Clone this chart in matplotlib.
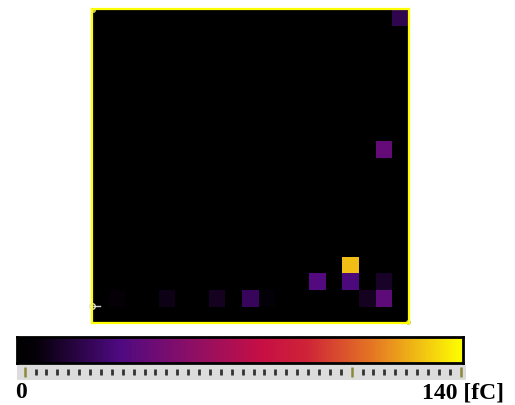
import matplotlib as mpl
import matplotlib.pyplot as plt
from matplotlib.colors import LinearSegmentedColormap
import numpy as np

# detector grid (19 x 19), charge per pad in fC
n_cols, n_rows = 19, 19
vmin, vmax = 0, 140
cell_col = [1, 4, 7, 9, 10, 13, 15, 15, 17, 16, 17, 17, 18]
cell_row = [1, 1, 1, 1, 1, 2, 2, 3, 10, 1, 1, 2, 18]
cell_val = [5, 9, 11, 24, 6, 34, 31, 126, 40, 11, 38, 13, 21]

cbar_label_lo = '0'
cbar_label_hi = '140 [fC]'
n_minor = 40
major_ticks = [0, 30, 40]

# colour map
cmap = LinearSegmentedColormap.from_list('charge', [
    (0.00, (0, 0, 0)),
    (0.04, (0.02, 0, 0.03)),
    (0.23, (0.31, 0.04, 0.51)),
    (0.39, (0.55, 0.06, 0.40)),
    (0.55, (0.78, 0.06, 0.27)),
    (0.65, (0.81, 0.14, 0.22)),
    (0.80, (0.90, 0.47, 0.14)),
    (0.90, (0.94, 0.74, 0.08)),
    (1.00, (1.0, 1.0, 0.0)),
])

grid = np.zeros((n_rows, n_cols))
for c, r, v in zip(cell_col, cell_row, cell_val):
    grid[r, c] = v

fig = plt.figure(figsize=(5.15, 4.05), dpi=100)

ax = fig.add_axes([0.1786, 0.2025, 0.6155, 0.7753])
ax.imshow(grid, cmap=cmap, vmin=vmin, vmax=vmax, origin='lower',
          extent=(0, n_cols, 0, n_rows), aspect='auto', interpolation='nearest')
ax.set_xticks([])
ax.set_yticks([])
for s in ax.spines.values():
    s.set_color('#ffff00')
    s.set_linewidth(1.6)
# small corner markers
ax.plot([0.05], [n_rows - 0.05], marker='o', ms=2.5, color='#c8c864', clip_on=False)
ax.plot([0, 0.5], [1, 1], color='#d0d0d0', lw=1, clip_on=False)
ax.plot([0], [1], marker='o', ms=4, mfc='none', mec='#e0e0e0', clip_on=False)
ax.plot([n_cols - 0.05], [0.05], marker='o', ms=2.5, color='#c8c864', clip_on=False)

# colour bar
cax = fig.add_axes([0.033, 0.1037, 0.866, 0.064])
cax.imshow(np.linspace(0, 1, 512)[None, :], cmap=cmap, aspect='auto',
           extent=(0, 1, 0, 1))
cax.set_xticks([])
cax.set_yticks([])
for s in cax.spines.values():
    s.set_linewidth(2)

# tick strip under the colour bar
tax = fig.add_axes([0.033, 0.062, 0.872, 0.038])
tax.set_facecolor('#dcdcdc')
for s in tax.spines.values():
    s.set_visible(False)
tax.set_xlim(-0.7, n_minor + 0.5)
tax.set_ylim(0, 1)
tax.set_xticks([])
tax.set_yticks([])
minor = [i for i in range(n_minor + 1) if i not in major_ticks]
tax.vlines(minor, 0.3, 0.7, color='#333333', lw=2)
tax.vlines(major_ticks, 0.2, 0.85, color='#8a8a3a', lw=1.8)

fig.text(0.029, 0.004, cbar_label_lo, family='Liberation Serif', weight='bold',
         fontsize=17, ha='left', va='bottom')
fig.text(0.978, 0.004, cbar_label_hi, family='Liberation Serif', weight='bold',
         fontsize=17, ha='right', va='bottom')

fig.savefig('out.png', dpi=100)
